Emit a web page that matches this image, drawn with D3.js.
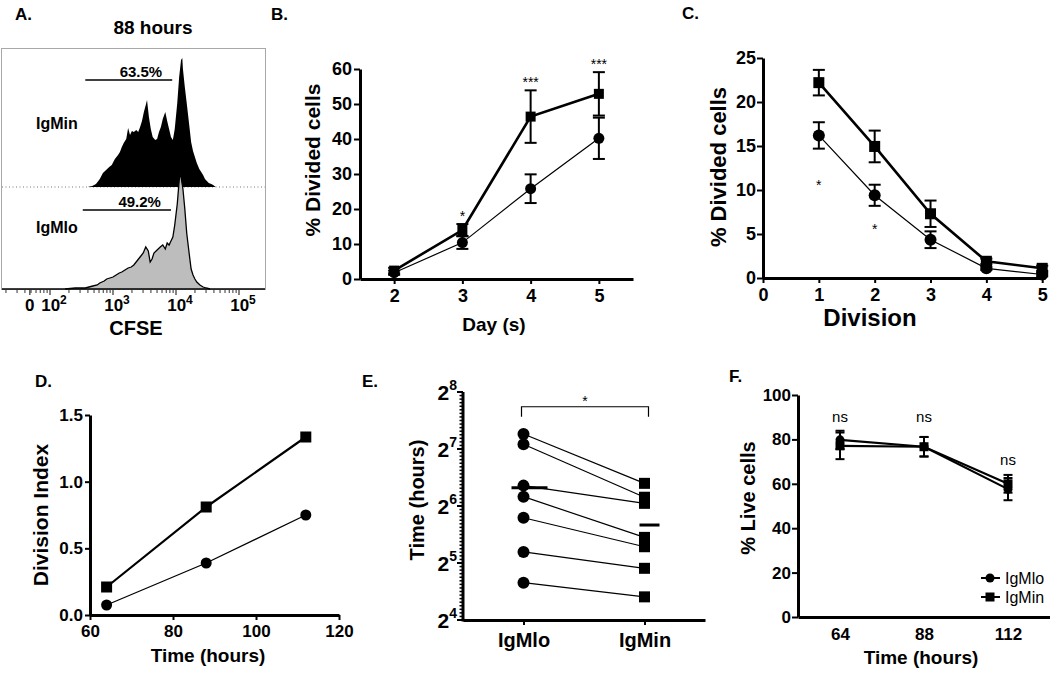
<!DOCTYPE html>
<html><head><meta charset="utf-8">
<script src="https://cdn.jsdelivr.net/npm/d3@7"></script>
<style>body{margin:0;background:#fff}svg{display:block}</style>
</head><body>
<svg id="c" width="1050" height="674"></svg>
<script>
// ---------- Panel A: CFSE histograms (log10 CFSE, event counts) ----------
const cfseIgMinLog = [2.60,2.67,2.73,2.79,2.84,2.89,2.94,2.98,3.03,3.08,3.11,3.14,3.17,3.21,3.24,3.27,3.30,3.33,3.37,3.40,3.43,3.46,3.49,3.52,3.54,3.57,3.60,3.63,3.67,3.70,3.73,3.76,3.79,3.83,3.86,3.89,3.92,3.95,3.98,4.02,4.05,4.08,4.10,4.11,4.14,4.17,4.21,4.24,4.27,4.30,4.33,4.37,4.40,4.43,4.46,4.49,4.52,4.56,4.59,4.63];
const cfseIgMinCount = [0,1,3,8,14,17,20,22,28,32,35,40,44,48,59,52,56,55,57,55,60,66,75,82,87,70,58,50,47,48,55,60,68,75,66,58,50,47,58,84,110,127,129,118,100,84,62,45,36,30,24,18,15,12,8,6,4,3,2,0];
const cfseIgMloLog = [2.24,2.40,2.56,2.68,2.75,2.79,2.86,2.90,2.95,3.00,3.05,3.10,3.14,3.19,3.24,3.29,3.33,3.38,3.43,3.48,3.52,3.56,3.59,3.62,3.65,3.70,3.75,3.79,3.83,3.86,3.89,3.92,3.95,3.98,4.02,4.05,4.06,4.08,4.11,4.14,4.17,4.21,4.24,4.27,4.30,4.33,4.38,4.43,4.48,4.54];
const cfseIgMloCount = [0,1,1,3,4,6,8,10,11,12,14,16,17,19,21,22,24,28,32,36,42,38,27,30,36,39,42,44,40,46,44,48,52,64,85,108,114,112,100,80,56,35,20,14,10,7,4,2,1,0];
const cfseDecades = [2,3,4,5];
const cfseZeroDecade = 1.68;
const gateLabels = ["63.5%","49.2%"];
const gateFrom = [2.56, 2.52];
const gateTo = [3.94, 3.92];
const gateLevel = [107, 79];
const histLabels = ["IgMin","IgMlo"];

// ---------- Panel B ----------
const days = [2,3,4,5];
const bIgMin = [2.4,14.0,46.4,52.9];
const bIgMinErr = [0.8,1.7,7.5,6.2];
const bIgMlo = [1.8,10.4,25.8,40.2];
const bIgMloErr = [0.6,1.8,4.1,5.9];
const bStars = ["","*","***","***"];
const bYTicks = [0,10,20,30,40,50,60];

// ---------- Panel C ----------
const divisions = [1,2,3,4,5];
const cIgMin = [22.2,14.95,7.3,1.9,1.1];
const cIgMinErr = [1.45,1.8,1.5,0.3,0.3];
const cIgMlo = [16.2,9.4,4.35,1.1,0.4];
const cIgMloErr = [1.5,1.2,0.95,0.2,0.2];
const cStarDivisions = [1,2];
const cStarLevels = [10.9,5.9];
const cXTicks = [0,1,2,3,4,5];
const cYTicks = [0,5,10,15,20,25];

// ---------- Panel D ----------
const dTimes = [64,88,112];
const dIgMin = [0.21,0.81,1.335];
const dIgMlo = [0.075,0.39,0.75];
const dXTicks = [60,80,100,120];
const dYTicks = [0,0.5,1.0,1.5];

// ---------- Panel E ----------
const eGroups = ["IgMlo","IgMin"];
const eIgMlo = [153.6,135.5,82,71.7,55.5,36.6,25.2];
const eIgMin = [84.3,71.2,66.1,43.7,39,30,21.2];
const eYTicks = [16,32,64,128,256];
const eSigLevel = 214;

// ---------- Panel F ----------
const fTimes = [64,88,112];
const fIgMlo = [79.8,76.7,57.6];
const fIgMloErr = [4.1,4.4,5.0];
const fIgMin = [77.1,76.7,60.0];
const fIgMinErr = [6.0,4.4,4.0];
const fNsLevels = [89.6,89.6,70.4];
const fYTicks = [0,20,40,60,80,100];
const legendNames = ["IgMlo","IgMin"];

// ================= drawing =================
const FF = "'Liberation Sans', Arial, Helvetica, sans-serif";
const svg = d3.select("#c");
svg.append("rect").attr("width",1050).attr("height",674).attr("fill","#fff");
const fmtInt = d3.format("d");

function txt(g, x, y, s, o) {
  o = o || {};
  return g.append("text").attr("x",x).attr("y",y).text(s)
    .attr("font-family",FF).attr("font-size",o.fs||16)
    .attr("font-weight",o.fw||"bold").attr("text-anchor",o.anchor||"start")
    .attr("fill","#000");
}
function vlabel(g, cx, cy, s, fs) {
  g.append("text").attr("transform",`translate(${cx},${cy}) rotate(-90)`)
    .attr("text-anchor","middle").attr("dominant-baseline","central")
    .attr("font-family",FF).attr("font-size",fs).attr("font-weight","bold")
    .attr("fill","#000").text(s);
}
function styleAxis(g, fs) {
  g.attr("font-family",FF).attr("font-size",fs).attr("font-weight","bold");
  g.select(".domain").attr("stroke-width",3).attr("stroke","#000");
  g.selectAll(".tick line").attr("stroke-width",2).attr("stroke","#000");
  g.selectAll(".tick text").attr("fill","#000");
}
function series(g, xs, ys, errs, X, Y, o) {
  const pts = xs.map((x,i)=>[x, ys[i], errs ? errs[i] : 0]);
  g.append("path").datum(pts)
    .attr("d", d3.line().x(d=>X(d[0])).y(d=>Y(d[1])))
    .attr("fill","none").attr("stroke","#000").attr("stroke-width",o.lw);
  if (errs) {
    const cw = o.cap;
    pts.forEach(d=>{
      const x = X(d[0]), y1 = Y(d[1]+d[2]), y0 = Y(d[1]-d[2]);
      g.append("line").attr("x1",x).attr("x2",x).attr("y1",y1).attr("y2",y0)
        .attr("stroke","#000").attr("stroke-width",2);
      [y0,y1].forEach(yy=>g.append("line").attr("x1",x-cw).attr("x2",x+cw)
        .attr("y1",yy).attr("y2",yy).attr("stroke","#000").attr("stroke-width",2));
    });
  }
  pts.forEach(d=>{
    const x = X(d[0]), y = Y(d[1]);
    if (o.shape === "square")
      g.append("rect").attr("x",x-o.size/2).attr("y",y-o.size/2)
        .attr("width",o.size).attr("height",o.size).attr("fill","#000");
    else
      g.append("circle").attr("cx",x).attr("cy",y).attr("r",o.size/2).attr("fill","#000");
  });
}

// ---------- Panel A ----------
(function(){
  const g = svg.append("g");
  const ax = d3.scaleLinear().domain([2,5]).range([50,239]);
  const yTop = d3.scaleLinear().domain([0,140]).range([187,47]);
  const yBot = d3.scaleLinear().domain([0,140]).range([289,149]);
  txt(g,15,20,"A.",{fs:17});
  txt(g,153,34,"88 hours",{fs:19,anchor:"middle"});
  g.append("rect").attr("x",1.5).attr("y",48.5).attr("width",264).attr("height",241)
    .attr("fill","none").attr("stroke","#a8a8a8").attr("stroke-width",1);
  g.append("line").attr("x1",2).attr("x2",265).attr("y1",yTop(0)).attr("y2",yTop(0))
    .attr("stroke","#777").attr("stroke-width",1).attr("stroke-dasharray","1,2.5");
  const topPts = cfseIgMinLog.map((v,i)=>[v,cfseIgMinCount[i]]);
  g.append("path").datum(topPts)
    .attr("d", d3.area().x(d=>ax(d[0])).y0(yTop(0)).y1(d=>yTop(d[1])))
    .attr("fill","#000");
  const botPts = cfseIgMloLog.map((v,i)=>[v,cfseIgMloCount[i]]);
  g.append("path").datum(botPts)
    .attr("d", d3.area().x(d=>ax(d[0])).y0(yBot(0)).y1(d=>yBot(d[1])))
    .attr("fill","#bdbdbd");
  g.append("path").datum(botPts)
    .attr("d", d3.line().x(d=>ax(d[0])).y(d=>yBot(d[1])))
    .attr("fill","none").attr("stroke","#000").attr("stroke-width",1.3);
  g.append("line").attr("x1",2).attr("x2",265).attr("y1",yBot(0)).attr("y2",yBot(0))
    .attr("stroke","#000").attr("stroke-width",1.3);
  [yTop, yBot].forEach((Y,i)=>{
    g.append("line").attr("x1",ax(gateFrom[i])).attr("x2",ax(gateTo[i]))
      .attr("y1",Y(gateLevel[i])).attr("y2",Y(gateLevel[i]))
      .attr("stroke","#000").attr("stroke-width",1.3);
    txt(g, ax(gateTo[i]) - 10, Y(gateLevel[i]) - 3, gateLabels[i], {fs:15,anchor:"end"});
  });
  txt(g,36,129,histLabels[0],{fs:16});
  txt(g,36,233,histLabels[1],{fs:16});
  const axY = 290;
  const minor = [];
  [1,2,3,4].forEach(n=>{ for (let k=2;k<=9;k++) minor.push(n + Math.log10(k)); });
  minor.forEach(v=>{
    if (ax(v) < 3 || ax(v) > 264) return;
    g.append("line").attr("x1",ax(v)).attr("x2",ax(v)).attr("y1",axY).attr("y2",axY+3)
      .attr("stroke","#333").attr("stroke-width",1);
  });
  cfseDecades.concat([cfseZeroDecade]).forEach(v=>{
    g.append("line").attr("x1",ax(v)).attr("x2",ax(v)).attr("y1",axY).attr("y2",axY+5)
      .attr("stroke","#333").attr("stroke-width",1.2);
  });
  cfseDecades.forEach(v=>{
    const t = g.append("text").attr("x",ax(v)+4).attr("y",311).attr("text-anchor","middle")
      .attr("font-family",FF).attr("font-size",17).attr("font-weight","bold").attr("fill","#000");
    t.append("tspan").text("10");
    t.append("tspan").attr("dy",-7).attr("font-size",12).text(v);
  });
  txt(g, ax(cfseZeroDecade), 311, "0", {fs:17, anchor:"middle"});
  txt(g,136,335,"CFSE",{fs:20,anchor:"middle"});
})();

// ---------- Panel B ----------
(function(){
  const g = svg.append("g");
  const X = d3.scaleLinear().domain([1.5,5.5]).range([360,633]);
  const Y = d3.scaleLinear().domain([0,60]).range([279,69]);
  txt(g,271,20,"B.",{fs:17});
  const gy = g.append("g").attr("transform","translate(360,0)")
    .call(d3.axisLeft(Y).tickValues(bYTicks).tickFormat(fmtInt).tickSize(6).tickSizeOuter(0).tickPadding(2));
  styleAxis(gy,18);
  const gx = g.append("g").attr("transform","translate(0,279)")
    .call(d3.axisBottom(X).tickValues(days).tickFormat(fmtInt).tickSize(5).tickSizeOuter(0).tickPadding(5));
  styleAxis(gx,18);
  series(g, days, bIgMlo, bIgMloErr, X, Y, {lw:1.2, cap:6, shape:"circle", size:11});
  series(g, days, bIgMin, bIgMinErr, X, Y, {lw:2.6, cap:6, shape:"square", size:10});
  days.forEach((d,i)=>{
    if (!bStars[i]) return;
    const top = Math.max(bIgMin[i]+bIgMinErr[i], bIgMlo[i]+bIgMloErr[i]);
    txt(g, X(d), Y(top)-3, bStars[i], {fs:14, fw:"normal", anchor:"middle"});
  });
  vlabel(g,312,160,"% Divided cells",21);
  txt(g,494,331,"Day (s)",{fs:19,anchor:"middle"});
})();

// ---------- Panel C ----------
(function(){
  const g = svg.append("g");
  const X = d3.scaleLinear().domain([0,5.05]).range([763,1045]);
  const Y = d3.scaleLinear().domain([0,25]).range([278,58]);
  txt(g,682,19,"C.",{fs:17});
  const gy = g.append("g").attr("transform","translate(763,0)")
    .call(d3.axisLeft(Y).tickValues(cYTicks).tickFormat(fmtInt).tickSize(6).tickSizeOuter(0).tickPadding(1));
  styleAxis(gy,18);
  const gx = g.append("g").attr("transform","translate(0,278)")
    .call(d3.axisBottom(X).tickValues(cXTicks).tickFormat(fmtInt).tickSize(5).tickSizeOuter(0).tickPadding(5));
  styleAxis(gx,18);
  series(g, divisions, cIgMlo, cIgMloErr, X, Y, {lw:1.2, cap:6, shape:"circle", size:12});
  series(g, divisions, cIgMin, cIgMinErr, X, Y, {lw:2.6, cap:6, shape:"square", size:11});
  cStarDivisions.forEach((d,i)=>txt(g, X(d), Y(cStarLevels[i])+8, "*", {fs:14,fw:"normal",anchor:"middle"}));
  vlabel(g,718,167,"% Divided cells",22);
  txt(g,870,326,"Division",{fs:24,anchor:"middle"});
})();

// ---------- Panel D ----------
(function(){
  const g = svg.append("g");
  const X = d3.scaleLinear().domain([60,120]).range([90,339]);
  const Y = d3.scaleLinear().domain([0,1.5]).range([615,415]);
  txt(g,35,387,"D.",{fs:17});
  const gy = g.append("g").attr("transform","translate(90,0)")
    .call(d3.axisLeft(Y).tickValues(dYTicks).tickFormat(d3.format(".1f")).tickSize(5).tickSizeOuter(0).tickPadding(2));
  styleAxis(gy,17);
  const gx = g.append("g").attr("transform","translate(0,615)")
    .call(d3.axisBottom(X).tickValues(dXTicks).tickFormat(fmtInt).tickSize(5).tickSizeOuter(0).tickPadding(5));
  styleAxis(gx,17);
  series(g, dTimes, dIgMlo, null, X, Y, {lw:1.3, shape:"circle", size:11});
  series(g, dTimes, dIgMin, null, X, Y, {lw:2.2, shape:"square", size:11});
  vlabel(g,40,515,"Division Index",21);
  txt(g,208,662,"Time (hours)",{fs:19,anchor:"middle"});
})();

// ---------- Panel E ----------
(function(){
  const g = svg.append("g");
  const X = d3.scalePoint().domain(eGroups).range([463,705]).padding(0.5);
  const Y = d3.scaleLog().base(2).domain([16,256]).range([620,392]);
  txt(g,362,387,"E.",{fs:17});
  const minors = d3.range(0,65).map(k=>Math.pow(2, 4 + k/16));
  minors.forEach(v=>g.append("line").attr("x1",463-3.5).attr("x2",463).attr("y1",Y(v)).attr("y2",Y(v))
    .attr("stroke","#000").attr("stroke-width",1.5));
  eYTicks.forEach(v=>{
    g.append("line").attr("x1",463-6).attr("x2",463).attr("y1",Y(v)).attr("y2",Y(v))
      .attr("stroke","#000").attr("stroke-width",2);
    const t = g.append("text").attr("x",457).attr("y",Y(v)+8).attr("text-anchor","end")
      .attr("font-family",FF).attr("font-size",21).attr("font-weight","bold").attr("fill","#000");
    t.append("tspan").text("2");
    t.append("tspan").attr("dy",-10).attr("font-size",14).text(Math.log2(v));
  });
  g.append("line").attr("x1",463).attr("x2",463).attr("y1",Y(256)).attr("y2",Y(16)+1.5)
    .attr("stroke","#000").attr("stroke-width",3);
  const gx = g.append("g").attr("transform",`translate(0,${Y(16)})`)
    .call(d3.axisBottom(X).tickSize(5).tickSizeOuter(0).tickPadding(8));
  styleAxis(gx,20);
  eIgMlo.forEach((v,i)=>g.append("line").attr("x1",X("IgMlo")).attr("x2",X("IgMin"))
    .attr("y1",Y(v)).attr("y2",Y(eIgMin[i])).attr("stroke","#000").attr("stroke-width",1.2));
  eIgMlo.forEach(v=>g.append("circle").attr("cx",X("IgMlo")).attr("cy",Y(v)).attr("r",6).attr("fill","#000"));
  eIgMin.forEach(v=>g.append("rect").attr("x",X("IgMin")-5.5).attr("y",Y(v)-5.5)
    .attr("width",11).attr("height",11).attr("fill","#000"));
  const m1 = d3.mean(eIgMlo), m2 = d3.mean(eIgMin);
  g.append("line").attr("x1",X("IgMlo")-12).attr("x2",X("IgMlo")+24).attr("y1",Y(m1)).attr("y2",Y(m1))
    .attr("stroke","#000").attr("stroke-width",3);
  g.append("line").attr("x1",X("IgMin")-5).attr("x2",X("IgMin")+15).attr("y1",Y(m2)).attr("y2",Y(m2))
    .attr("stroke","#000").attr("stroke-width",3);
  const by = Y(eSigLevel), x1 = X("IgMlo")-2, x2 = X("IgMin")+4;
  g.append("path").attr("d",`M${x1},${by+10}V${by}H${x2}V${by+10}`)
    .attr("fill","none").attr("stroke","#000").attr("stroke-width",1.2);
  txt(g,(x1+x2)/2,by-1,"*",{fs:14,fw:"normal",anchor:"middle"});
  vlabel(g,417,500,"Time (hours)",20);
})();

// ---------- Panel F ----------
(function(){
  const g = svg.append("g");
  const X = d3.scaleLinear().domain([52,124]).range([798,1050]);
  const Y = d3.scaleLinear().domain([0,100]).range([617,395]);
  txt(g,729,382,"F.",{fs:17});
  const gy = g.append("g").attr("transform","translate(798,0)")
    .call(d3.axisLeft(Y).tickValues(fYTicks).tickFormat(fmtInt).tickSize(6).tickSizeOuter(0).tickPadding(1));
  styleAxis(gy,17);
  const gx = g.append("g").attr("transform","translate(0,617)")
    .call(d3.axisBottom(X).tickValues(fTimes).tickFormat(fmtInt).tickSize(0).tickSizeOuter(0).tickPadding(11));
  styleAxis(gx,17);
  series(g, fTimes, fIgMlo, fIgMloErr, X, Y, {lw:2.2, cap:4.5, shape:"circle", size:9});
  series(g, fTimes, fIgMin, fIgMinErr, X, Y, {lw:2.2, cap:4.5, shape:"square", size:9});
  fTimes.forEach((t,i)=>txt(g, X(t), Y(fNsLevels[i])+4, "ns", {fs:15, fw:"normal", anchor:"middle"}));
  vlabel(g,748,498,"% Live cells",20);
  txt(g,921,664,"Time (hours)",{fs:19,anchor:"middle"});
  legendNames.forEach((n,i)=>{
    const ly = 578 + i*19;
    g.append("line").attr("x1",981).attr("x2",1000).attr("y1",ly).attr("y2",ly)
      .attr("stroke","#000").attr("stroke-width",2);
    if (i===0) g.append("circle").attr("cx",990).attr("cy",ly).attr("r",4.5).attr("fill","#000");
    else g.append("rect").attr("x",985.5).attr("y",ly-4.5).attr("width",9).attr("height",9).attr("fill","#000");
    txt(g,1005,ly+6,n,{fs:16,fw:"normal"});
  });
})();
</script>
</body></html>
